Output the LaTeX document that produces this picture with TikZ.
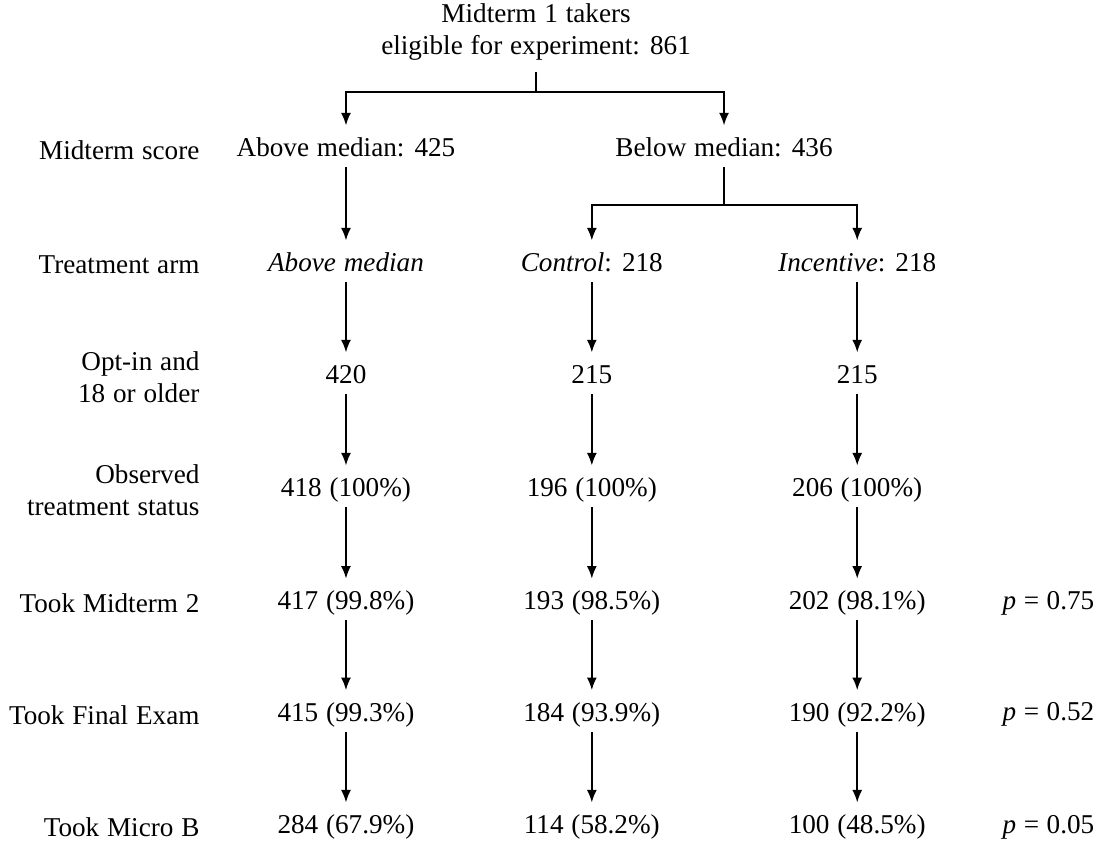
\documentclass[tikz,border=0pt]{standalone}
\usepackage{fontspec}
\setmainfont{Liberation Serif}[WordSpace=1.15]
\usepackage{tikz}
\usetikzlibrary{arrows.meta,positioning,calc}
\newcommand{\figfont}{\fontsize{9.5pt}{11.3pt}\selectfont}
\tikzset{
  cell/.style={inner sep=1.5pt,text height=6.6pt,text depth=2pt,font=\figfont},
  rowlab/.style={anchor=east,align=right,inner sep=0pt,font=\figfont},
  pval/.style={anchor=west,inner sep=0pt,font=\figfont},
  ln/.style={line width=0.6pt},
  fl/.style={ln,-{Latex[length=4.4pt,width=3.5pt]},shorten >=2.6pt},
}
\begin{document}
\begin{tikzpicture}[x=1cm,y=1cm]
  \useasboundingbox (0,0) rectangle (13.5,-10.356);
  % ── root of the tree ──
  \node[align=center,inner xsep=2pt,inner ysep=4pt,font=\figfont] (root) at (6.585,-0.39)
    {Midterm 1 takers\\eligible for experiment: 861};
  % ── row labels on the left ──
  \node[rowlab] (lab1) at (2.457,-1.843) {Midterm score};
  \node[rowlab] (lab2) at (2.457,-3.256) {Treatment arm};
  \node[rowlab] (lab3) at (2.457,-4.631) {Opt-in and\\18 or older};
  \node[rowlab] (lab4) at (2.457,-6.02)  {Observed\\treatment status};
  \node[rowlab] (lab5) at (2.457,-7.41)  {Took Midterm 2};
  \node[rowlab] (lab6) at (2.457,-8.78)  {Took Final Exam};
  \node[rowlab] (lab7) at (2.457,-10.16) {Took Micro B};
  % ── midterm score split ──
  \node[cell] (a1) at (4.25,-1.843)  {Above median: 425};
  \node[cell] (b1) at (8.894,-1.843) {Below median: 436};
  % ── treatment arms ──
  \node[cell] (a2) at (4.25,-3.256)  {\textit{Above median}};
  \node[cell] (c2) at (7.27,-3.256)  {\textit{Control}: 218};
  \node[cell] (i2) at (10.53,-3.256) {\textit{Incentive}: 218};
  % ── counts down each arm ──
  \node[cell] (a3) at (4.25,-4.631)  {420};
  \node[cell] (c3) at (7.27,-4.631)  {215};
  \node[cell] (i3) at (10.53,-4.631) {215};
  \node[cell] (a4) at (4.25,-6.02)   {418 (100\%)};
  \node[cell] (c4) at (7.27,-6.02)   {196 (100\%)};
  \node[cell] (i4) at (10.53,-6.02)  {206 (100\%)};
  \node[cell] (a5) at (4.25,-7.41)   {417 (99.8\%)};
  \node[cell] (c5) at (7.27,-7.41)   {193 (98.5\%)};
  \node[cell] (i5) at (10.53,-7.41)  {202 (98.1\%)};
  \node[cell] (a6) at (4.25,-8.78)   {415 (99.3\%)};
  \node[cell] (c6) at (7.27,-8.78)   {184 (93.9\%)};
  \node[cell] (i6) at (10.53,-8.78)  {190 (92.2\%)};
  \node[cell] (a7) at (4.25,-10.16)  {284 (67.9\%)};
  \node[cell] (c7) at (7.27,-10.16)  {114 (58.2\%)};
  \node[cell] (i7) at (10.53,-10.16) {100 (48.5\%)};
  % ── p-values on the right ──
  \node[pval] (p5) at (12.31,-7.41)  {\textit{p}\;=\;0.75};
  \node[pval] (p6) at (12.31,-8.78)  {\textit{p}\;=\;0.52};
  \node[pval] (p7) at (12.31,-10.16) {\textit{p}\;=\;0.05};
  % ── branch joints ──
  \coordinate (j1) at (6.585,-1.13);
  \coordinate (j2) at (8.894,-2.518);
  \draw[ln] (root) -- (j1);
  \draw[fl] (j1) -| (a1);
  \draw[fl] (j1) -| (b1);
  \draw[ln] (b1) -- (j2);
  \draw[fl] (j2) -| (c2);
  \draw[fl] (j2) -| (i2);
  % ── vertical drops in each column ──
  \draw[fl] (a1) -- (a2);
  \foreach \col in {a,c,i}{
    \foreach \r/\n in {2/3,3/4,4/5,5/6,6/7}{\draw[fl] (\col\r) -- (\col\n);}
  }
\end{tikzpicture}
\end{document}
